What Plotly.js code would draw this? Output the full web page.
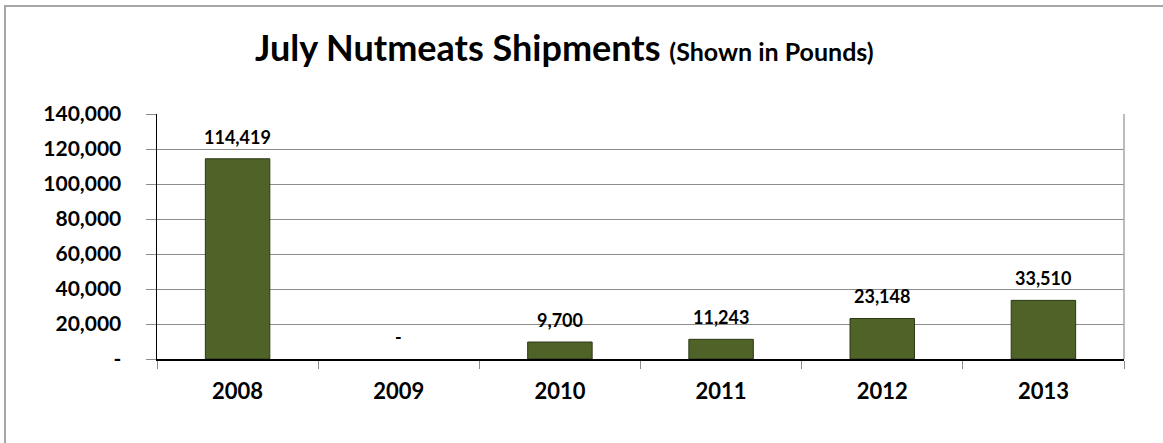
<!DOCTYPE html>
<html>
<head>
<meta charset="utf-8">
<script src="https://cdn.plot.ly/plotly-3.0.1.min.js"></script>
<style>
  html, body { margin: 0; padding: 0; background: #ffffff; }
  #frame { position: absolute; left: 4px; top: 5px; width: 1300px; height: 600px;
           border-top: 2px solid #a6a6a6; border-left: 2px solid #a6a6a6; pointer-events: none; }
  #chart { position: absolute; left: 0; top: 0; width: 1163px; height: 443px; }
</style>
</head>
<body>
<div id="chart"></div>
<div id="frame"></div>
<script>
const years = ["2008", "2009", "2010", "2011", "2012", "2013"];
const pounds = [114419, 0, 9700, 11243, 23148, 33510];
const valueLabels = ["114,419", "-", "9,700", "11,243", "23,148", "33,510"];
const yTickVals = [0, 20000, 40000, 60000, 80000, 100000, 120000, 140000];
const yTickText = ["-", "20,000", "40,000", "60,000", "80,000", "100,000", "120,000", "140,000"];

const FONT = "Lato, 'Open Sans', sans-serif";

const trace = {
  type: "bar",
  x: years,
  y: pounds,
  width: 0.4,
  marker: {
    color: "#4f6228",
    line: { color: "#2b3816", width: pounds.map(v => (v > 0 ? 1 : 0)) }
  },
  hoverinfo: "none"
};

// category axis: annotations are placed by category index
const annotations = years.map((yr, i) => ({
  x: i, y: pounds[i], xref: "x", yref: "y",
  text: valueLabels[i],
  showarrow: false, yanchor: "middle", yshift: 22,
  font: { family: FONT, size: 18, color: "#000", weight: 700 }
}));

const layout = {
  width: 1163, height: 443,
  margin: { l: 157, r: 39, t: 114, b: 84 },
  paper_bgcolor: "rgba(0,0,0,0)",
  plot_bgcolor: "#ffffff",
  showlegend: false,
  title: {
    text: "July Nutmeats Shipments <span style='font-size:25px'>(Shown in Pounds)</span>",
    font: { family: FONT, size: 36, color: "#000", weight: 700 },
    xref: "container", yref: "container",
    x: 255 / 1163, xanchor: "left",
    y: 1 - 48 / 443, yanchor: "middle"
  },
  xaxis: {
    type: "category",
    showline: true, linecolor: "#000", linewidth: 1.5,
    ticks: "outside", tickson: "boundaries", ticklen: 8, tickcolor: "#8c8c8c", tickwidth: 1,
    tickfont: { family: FONT, size: 22, color: "#000", weight: 700 },
    ticklabelstandoff: 12,
    showgrid: false, zeroline: false, fixedrange: true
  },
  yaxis: {
    range: [0, 140000],
    tickmode: "array", tickvals: yTickVals, ticktext: yTickText,
    showline: true, linecolor: "#000", linewidth: 1.5,
    ticks: "outside", ticklen: 10, tickcolor: "#8c8c8c", tickwidth: 1,
    tickfont: { family: FONT, size: 21, color: "#000", weight: 700 },
    ticklabelstandoff: 20,
    showgrid: true, gridcolor: "#8c8c8c", gridwidth: 1,
    zeroline: false, fixedrange: true
  },
  shapes: [
    { type: "line", xref: "paper", yref: "paper", x0: 1, x1: 1, y0: 0, y1: 1,
      line: { color: "#a6a6a6", width: 1.5 } }
  ],
  annotations: annotations,
  bargap: 0.6
};

Plotly.newPlot("chart", [trace], layout, { displayModeBar: false, staticPlot: true });
</script>
</body>
</html>
